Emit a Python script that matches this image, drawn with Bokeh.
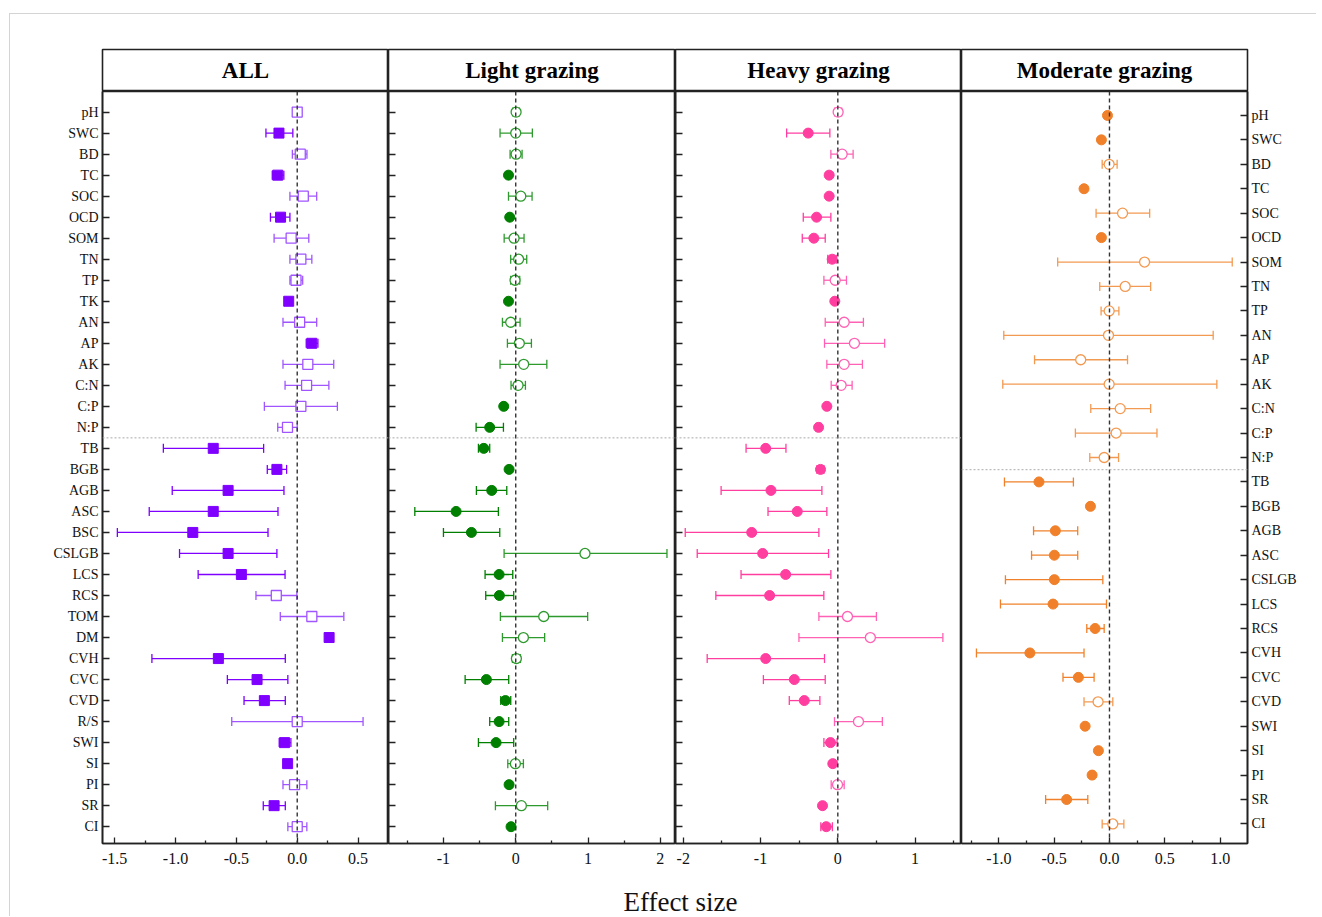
import numpy as np
from bokeh.plotting import figure
from bokeh.models import (Range1d, FixedTicker, Span, Whisker, TeeHead,
                          ColumnDataSource, Label)
from bokeh.layouts import row, column
from bokeh.embed import file_html
from bokeh.resources import INLINE

FONT = "Liberation Serif"

# ---------------- data ----------------
cats_all = ["pH", "SWC", "BD", "TC", "SOC", "OCD", "SOM", "TN", "TP", "TK", "AN", "AP",
            "AK", "C:N", "C:P", "N:P", "TB", "BGB", "AGB", "ASC", "BSC", "CSLGB", "LCS",
            "RCS", "TOM", "DM", "CVH", "CVC", "CVD", "R/S", "SWI", "SI", "PI", "SR", "CI"]

all_mean = [0.00, -0.15, 0.025, -0.16, 0.05, -0.137, -0.05, 0.03, -0.01, -0.07, 0.02, 0.12,
            0.087, 0.077, 0.03, -0.08, -0.69, -0.167, -0.568, -0.69, -0.858, -0.568, -0.459,
            -0.172, 0.12, 0.262, -0.648, -0.33, -0.27, 0.0, -0.104, -0.079, -0.022, -0.19, 0.0]
all_lo = [-0.03, -0.257, -0.04, -0.205, -0.06, -0.22, -0.19, -0.06, -0.06, -0.09, -0.117, 0.074,
          -0.117, -0.10, -0.27, -0.16, -1.10, -0.246, -1.027, -1.216, -1.478, -0.967, -0.814,
          -0.339, -0.139, 0.25, -1.194, -0.574, -0.437, -0.538, -0.148, -0.09, -0.117, -0.279, -0.077]
all_hi = [0.03, -0.036, 0.08, -0.11, 0.16, -0.06, 0.095, 0.12, 0.045, -0.05, 0.16, 0.17,
          0.30, 0.26, 0.33, 0.0, -0.276, -0.087, -0.109, -0.158, -0.24, -0.167, -0.10,
          -0.003, 0.383, 0.275, -0.098, -0.077, -0.098, 0.541, -0.052, -0.068, 0.079, -0.098, 0.079]
all_sig = [0, 1, 0, 1, 0, 1, 0, 0, 0, 1, 0, 1, 0, 0, 0, 0, 1, 1, 1, 1, 1, 1, 1, 0, 0, 1, 1, 1, 1,
           0, 1, 1, 0, 1, 0]

light_mean = [0.005, 0.0, 0.005, -0.10, 0.07, -0.083, -0.023, 0.04, -0.01, -0.10, -0.07, 0.05,
              0.11, 0.032, -0.166, -0.36, -0.442, -0.092, -0.332, -0.825, -0.613, 0.958, -0.23,
              -0.226, 0.387, 0.106, 0.009, -0.406, -0.143, -0.23, -0.272, -0.005, -0.092, 0.078, -0.065]
light_lo = [-0.04, -0.217, -0.078, -0.11, -0.10, -0.09, -0.16, -0.07, -0.07, -0.11, -0.184, -0.115,
            -0.217, -0.065, -0.175, -0.548, -0.516, -0.10, -0.544, -1.396, -1.0, -0.161, -0.424,
            -0.415, -0.212, -0.184, -0.046, -0.70, -0.207, -0.36, -0.516, -0.11, -0.10, -0.281, -0.075]
light_hi = [0.05, 0.23, 0.088, -0.09, 0.226, -0.075, 0.115, 0.152, 0.055, -0.09, 0.06, 0.217,
            0.43, 0.134, -0.155, -0.17, -0.36, -0.085, -0.124, -0.24, -0.221, 2.092, -0.041,
            -0.028, 0.995, 0.40, 0.065, -0.097, -0.069, -0.097, -0.028, 0.106, -0.085, 0.442, -0.055]
light_sig = [0, 0, 0, 1, 0, 1, 0, 0, 0, 1, 0, 0, 0, 0, 1, 1, 1, 1, 1, 1, 1, 0, 1, 1, 0, 0, 0, 1, 1,
             1, 1, 0, 1, 0, 1]

heavy_mean = [0.004, -0.383, 0.056, -0.112, -0.112, -0.275, -0.31, -0.073, -0.034, -0.039, 0.082,
              0.215, 0.082, 0.043, -0.142, -0.249, -0.933, -0.224, -0.865, -0.525, -1.114, -0.972,
              -0.675, -0.882, 0.125, 0.421, -0.933, -0.563, -0.434, 0.267, -0.095, -0.065, -0.004,
              -0.198, -0.15]
heavy_lo = [-0.04, -0.662, -0.09, -0.125, -0.125, -0.447, -0.46, -0.13, -0.18, -0.05, -0.163,
            -0.172, -0.142, -0.086, -0.155, -0.28, -1.187, -0.27, -1.51, -0.903, -1.974, -1.819,
            -1.252, -1.578, -0.245, -0.503, -1.69, -0.963, -0.628, -0.043, -0.18, -0.075, -0.086,
            -0.21, -0.22]
heavy_hi = [0.05, -0.103, 0.198, -0.10, -0.10, -0.09, -0.163, -0.02, 0.112, -0.03, 0.331, 0.606,
            0.318, 0.185, -0.13, -0.22, -0.671, -0.18, -0.206, -0.142, -0.245, -0.12, -0.09,
            -0.181, 0.499, 1.359, -0.172, -0.163, -0.232, 0.576, -0.01, -0.055, 0.082, -0.185, -0.07]
heavy_sig = [0, 1, 0, 1, 1, 1, 1, 1, 0, 1, 0, 0, 0, 0, 1, 1, 1, 1, 1, 1, 1, 1, 1, 1, 0, 0, 1, 1, 1,
             0, 1, 1, 0, 1, 1]

cats_mod = ["pH", "SWC", "BD", "TC", "SOC", "OCD", "SOM", "TN", "TP", "AN", "AP", "AK", "C:N",
            "C:P", "N:P", "TB", "BGB", "AGB", "ASC", "CSLGB", "LCS", "RCS", "CVH", "CVC", "CVD",
            "SWI", "SI", "PI", "SR", "CI"]
mod_mean = [-0.018, -0.073, -0.003, -0.23, 0.118, -0.073, 0.317, 0.142, -0.003, -0.009, -0.26,
            -0.003, 0.097, 0.06, -0.048, -0.637, -0.172, -0.489, -0.498, -0.498, -0.51, -0.13,
            -0.719, -0.281, -0.103, -0.22, -0.1, -0.157, -0.387, 0.03]
mod_lo = [-0.03, -0.085, -0.066, -0.245, -0.121, -0.085, -0.468, -0.088, -0.076, -0.955, -0.677,
          -0.964, -0.169, -0.308, -0.178, -0.949, -0.185, -0.686, -0.704, -0.94, -0.985, -0.205,
          -1.202, -0.42, -0.23, -0.232, -0.112, -0.17, -0.577, -0.066]
mod_hi = [-0.006, -0.061, 0.069, -0.215, 0.363, -0.061, 1.109, 0.372, 0.085, 0.937, 0.163, 0.97,
          0.372, 0.429, 0.082, -0.326, -0.159, -0.287, -0.287, -0.06, -0.027, -0.048, -0.23,
          -0.139, 0.03, -0.208, -0.088, -0.144, -0.196, 0.13]
mod_sig = [1, 1, 0, 1, 0, 1, 0, 0, 0, 0, 0, 0, 0, 0, 0, 1, 1, 1, 1, 1, 1, 1, 1, 1, 0, 1, 1, 1, 1, 0]

panel_titles = ["ALL", "Light grazing", "Heavy grazing", "Moderate grazing"]

all_xticks = [-1.5, -1.0, -0.5, 0.0, 0.5]
all_xminor = [-1.25, -0.75, -0.25, 0.25]
all_xlabels = ["-1.5", "-1.0", "-0.5", "0.0", "0.5"]
light_xticks = [-1, 0, 1, 2]
light_xminor = [-1.5, -0.5, 0.5, 1.5]
light_xlabels = ["-1", "0", "1", "2"]
heavy_xticks = [-2, -1, 0, 1]
heavy_xminor = [-1.5, -0.5, 0.5, 1.5]
heavy_xlabels = ["-2", "-1", "0", "1"]
mod_xticks = [-1.0, -0.5, 0.0, 0.5, 1.0]
mod_xminor = [-1.25, -0.75, -0.25, 0.25, 0.75]
mod_xlabels = ["-1.0", "-0.5", "0.0", "0.5", "1.0"]

x_label = "Effect size"

# ---------------- layout constants ----------------
FRAME_H = 752
BOTTOM = 34
TITLE_TOP = 35
TITLE_H = 42
EDGE = "#222222"


def make_panel(cats, mean, lo, hi, sig, xr, xticks, xminor, xlabels, marker,
               c_fill, c_open, yloc, width, mbl, mbr, show_labels):
    n = len(cats)
    y = np.arange(n)
    p = figure(width=width, height=FRAME_H + BOTTOM,
               x_range=Range1d(*xr), y_range=Range1d(n - 1 + 0.8, -0.98),
               output_backend="svg", toolbar_location=None,
               min_border_left=mbl, min_border_right=mbr,
               min_border_top=0, min_border_bottom=BOTTOM,
               y_axis_location=yloc,
               outline_line_color=EDGE, outline_line_width=1.6)
    p.grid.visible = False

    sig = np.array(sig, dtype=bool)
    mean = np.array(mean, dtype=float)
    lo = np.array(lo, dtype=float)
    hi = np.array(hi, dtype=float)
    for flag, col in ((True, c_fill), (False, c_open)):
        m = sig == flag
        src = ColumnDataSource(dict(y=y[m], x=mean[m], lo=lo[m], hi=hi[m]))
        w = Whisker(source=src, base="y", lower="lo", upper="hi", dimension="width",
                    line_color=col, line_width=1.3, level="underlay",
                    upper_head=TeeHead(size=9, line_color=col, line_width=1.3),
                    lower_head=TeeHead(size=9, line_color=col, line_width=1.3))
        p.add_layout(w)
        if flag:
            p.scatter("x", "y", source=src, marker=marker, size=10,
                      fill_color=col, line_color=col)
        else:
            p.scatter("x", "y", source=src, marker=marker, size=10,
                      fill_color="white", line_color=col, line_width=1.3)

    p.add_layout(Span(location=0, dimension="height", line_color="#333333",
                      line_dash="4 3", line_width=1.4))
    p.add_layout(Span(location=cats.index("TB") - 0.5, dimension="width",
                      line_color="#aaaaaa", line_dash="2 2", line_width=1))

    xa = p.xaxis[0]
    xa.ticker = FixedTicker(ticks=xticks, minor_ticks=xminor)
    xa.major_label_overrides = {float(t): l for t, l in zip(xticks, xlabels)}
    xa.major_tick_in = 6
    xa.major_tick_out = 0
    xa.minor_tick_in = 3
    xa.minor_tick_out = 0
    xa.axis_line_color = EDGE
    xa.axis_line_width = 1.6
    xa.major_tick_line_color = EDGE
    xa.minor_tick_line_color = EDGE
    xa.major_tick_line_width = 1.3
    xa.minor_tick_line_width = 1.3
    xa.major_label_text_font = FONT
    xa.major_label_text_font_size = "16px"
    xa.major_label_text_color = "#111111"
    xa.major_label_standoff = 9

    ya = p.yaxis[0]
    ya.ticker = FixedTicker(ticks=list(range(n)), minor_ticks=[])
    ya.major_tick_in = 7
    ya.major_tick_out = 0
    ya.minor_tick_line_color = None
    ya.axis_line_color = EDGE
    ya.axis_line_width = 1.6
    ya.major_tick_line_color = EDGE
    ya.major_tick_line_width = 1.3
    if show_labels:
        ya.major_label_overrides = {i: c for i, c in enumerate(cats)}
        ya.major_label_text_font = FONT
        ya.major_label_text_font_size = "14px"
        ya.major_label_text_color = "#111111"
        ya.major_label_standoff = 4
    else:
        ya.major_label_overrides = {i: "" for i in range(n)}
        ya.major_label_text_font_size = "0px"
        ya.major_label_standoff = 0
    return p


def make_title(text, width, mbl, mbr):
    t = figure(width=width, height=TITLE_TOP + TITLE_H,
               x_range=Range1d(0, 1), y_range=Range1d(0, 1),
               x_axis_type=None, y_axis_type=None,
               output_backend="svg", toolbar_location=None,
               min_border_left=mbl, min_border_right=mbr,
               min_border_top=TITLE_TOP, min_border_bottom=0,
               outline_line_color=EDGE, outline_line_width=1.6)
    t.add_layout(Label(x=0.5, y=0.5, text=text, text_align="center",
                       text_baseline="middle", text_font=FONT,
                       text_font_style="bold", text_font_size="23px",
                       text_color="#000000"))
    return t


widths = [378, 287, 286, 355]
mbls = [92, 0, 0, 0]
mbrs = [0, 0, 0, 69]

p1 = make_panel(cats_all, all_mean, all_lo, all_hi, all_sig, (-1.6, 0.75),
                all_xticks, all_xminor, all_xlabels, "square",
                "#7f00ff", "#a055ff", "left", widths[0], mbls[0], mbrs[0], True)
p2 = make_panel(cats_all, light_mean, light_lo, light_hi, light_sig, (-1.76, 2.21),
                light_xticks, light_xminor, light_xlabels, "circle",
                "#007f00", "#2e9a2e", "left", widths[1], mbls[1], mbrs[1], False)
p3 = make_panel(cats_all, heavy_mean, heavy_lo, heavy_hi, heavy_sig, (-2.1, 1.6),
                heavy_xticks, heavy_xminor, heavy_xlabels, "circle",
                "#ff3ea0", "#ff62b4", "left", widths[2], mbls[2], mbrs[2], False)
p4 = make_panel(cats_mod, mod_mean, mod_lo, mod_hi, mod_sig, (-1.337, 1.247),
                mod_xticks, mod_xminor, mod_xlabels, "circle",
                "#f0802a", "#f39a52", "right", widths[3], mbls[3], mbrs[3], True)

titles = [make_title(panel_titles[i], widths[i], mbls[i], mbrs[i]) for i in range(4)]

total_w = sum(widths)
XL_H = 39
xl = figure(width=total_w, height=XL_H, x_range=Range1d(0, total_w), y_range=Range1d(0, XL_H),
            x_axis_type=None, y_axis_type=None, output_backend="svg",
            toolbar_location=None, min_border=0, outline_line_color=None)
xl.add_layout(Label(x=670, y=15, text=x_label, text_align="center",
                    text_baseline="middle", text_font=FONT,
                    text_font_size="27px", text_color="#111111"))

layout = column(row(*titles), row(p1, p2, p3, p4), xl,
                styles={"margin-left": "9px", "margin-top": "13px",
                        "border-left": "1px solid #d4d4d4",
                        "border-top": "1px solid #d4d4d4"})

open("out.html", "w").write(file_html(layout, INLINE))
